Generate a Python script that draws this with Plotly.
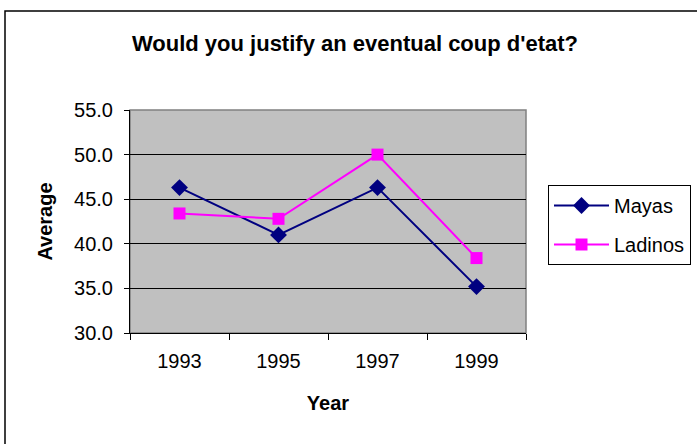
import plotly.graph_objects as go

# Survey averages by year
years = ["1993", "1995", "1997", "1999"]
mayas = [46.3, 41.0, 46.3, 35.2]
ladinos = [43.4, 42.8, 50.0, 38.4]
y_ticks = [30, 35, 40, 45, 50, 55]

FONT = "Liberation Sans, Arial, sans-serif"
W, H = 697, 444
L, R, T, B = 130, 171, 110, 111
pw, ph = W - L - R, H - T - B


def px_x(x):
    return (x - L) / pw


def px_y(y):
    return (H - B - y) / ph


fig = go.Figure()
fig.add_trace(go.Scatter(
    x=years, y=mayas, name="Mayas", mode="lines+markers", legendgroup="m",
    line=dict(color="#000080", width=2),
    marker=dict(symbol="diamond", size=13, color="#000080"),
))
fig.add_trace(go.Scatter(
    x=years, y=ladinos, name="Ladinos", mode="lines+markers", legendgroup="l",
    line=dict(color="#FF00FF", width=2),
    marker=dict(symbol="square", size=12, color="#FF00FF"),
))

# outer chart frame
fig.add_shape(type="rect", xref="paper", yref="paper",
              x0=px_x(5), x1=px_x(705), y0=px_y(452), y1=px_y(11),
              line=dict(color="black", width=1.5), fillcolor="rgba(0,0,0,0)",
              layer="below")
# plot area border
fig.add_shape(type="rect", xref="paper", yref="paper",
              x0=0, x1=1, y0=0, y1=1,
              line=dict(color="#808080", width=1.5), fillcolor="rgba(0,0,0,0)",
              layer="below")

fig.update_layout(
    width=W, height=H,
    margin=dict(l=L, r=R, t=T, b=B, autoexpand=False),
    paper_bgcolor="white",
    plot_bgcolor="#C0C0C0",
    font=dict(family=FONT, size=20, color="black"),
    title=dict(text="<b>Would you justify an eventual coup d'etat?</b>",
               x=px_x(355), xanchor="center", xref="paper",
               y=1 - 43 / H, yanchor="middle",
               font=dict(family=FONT, size=22, color="black")),
    showlegend=True,
    legend=dict(x=px_x(548), y=px_y(185), xanchor="left", yanchor="top",
                bordercolor="black", borderwidth=1, bgcolor="white",
                font=dict(family=FONT, size=20), tracegroupgap=10,
                itemwidth=55),
    xaxis=dict(
        type="category", tickson="boundaries", ticks="outside", ticklen=6,
        tickcolor="black", showline=True, linecolor="black", linewidth=1,
        showgrid=False, tickfont=dict(size=20), range=[-0.5, 3.5],
        ticklabelstandoff=10,
        title=dict(text="<b>Year</b>", standoff=24, font=dict(size=20)),
    ),
    yaxis=dict(
        range=[30, 55], tickvals=y_ticks, tickformat=".1f",
        ticks="outside", ticklen=5, tickcolor="black",
        showline=True, linecolor="black", linewidth=1,
        showgrid=True, gridcolor="black", gridwidth=1, zeroline=False,
        tickfont=dict(size=20), ticklabelstandoff=7,
        title=dict(text="<b>Average</b>", standoff=16, font=dict(size=20)),
    ),
)

fig.write_html("out.html")
